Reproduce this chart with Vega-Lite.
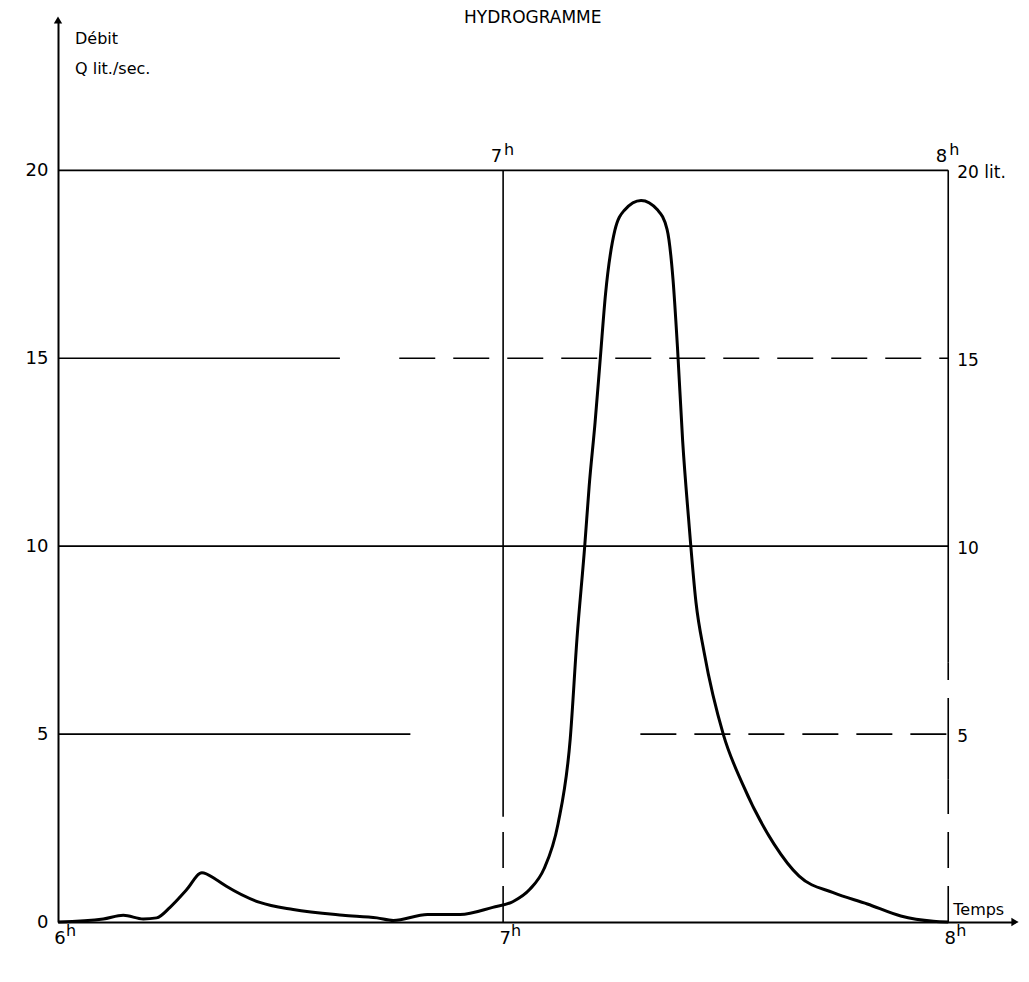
{
  "$schema": "https://vega.github.io/schema/vega-lite/v6.json",
  "width": 957,
  "height": 902,
  "autosize": "none",
  "padding": {"left": 58, "top": 20, "right": 14, "bottom": 60},
  "background": "white",
  "config": {
    "view": {"stroke": null},
    "font": "DejaVu Sans",
    "axis": {"grid": false, "ticks": false, "domainColor": "black", "domainWidth": 2, "labelColor": "black", "labelFont": "DejaVu Sans", "labelFontSize": 18, "title": null}
  },
  "datasets": {
    "flow": [
      {"t": 0, "q": 0}, {"t": 6.1, "q": 0.08}, {"t": 8.8, "q": 0.18}, {"t": 11.5, "q": 0.08}, {"t": 13.3, "q": 0.11},
      {"t": 15.1, "q": 0.39}, {"t": 17.3, "q": 0.85}, {"t": 19.4, "q": 1.31}, {"t": 21.3, "q": 1.13}, {"t": 22.7, "q": 0.95},
      {"t": 27.2, "q": 0.52}, {"t": 31.7, "q": 0.33}, {"t": 38.4, "q": 0.18}, {"t": 43.0, "q": 0.11}, {"t": 45.2, "q": 0.04},
      {"t": 49.8, "q": 0.2}, {"t": 54.2, "q": 0.2}, {"t": 58.6, "q": 0.39}, {"t": 61.3, "q": 0.54}, {"t": 63.6, "q": 0.87},
      {"t": 65.5, "q": 1.41}, {"t": 67.4, "q": 2.61}, {"t": 69.05, "q": 4.88}, {"t": 69.96, "q": 7.55}, {"t": 71.0, "q": 10.0},
      {"t": 71.6, "q": 11.6}, {"t": 72.4, "q": 13.3}, {"t": 73.1, "q": 15.0}, {"t": 73.8, "q": 16.7}, {"t": 75.06, "q": 18.4},
      {"t": 76.35, "q": 18.94}, {"t": 78.6, "q": 19.2}, {"t": 80.8, "q": 18.95}, {"t": 82.1, "q": 18.43}, {"t": 82.9, "q": 17.1},
      {"t": 83.5, "q": 15.3}, {"t": 84.2, "q": 12.8}, {"t": 85.0, "q": 10.73}, {"t": 86.0, "q": 8.5}, {"t": 87.1, "q": 7.17},
      {"t": 89.7, "q": 4.98}, {"t": 92.3, "q": 3.66}, {"t": 96.5, "q": 2.08}, {"t": 99.9, "q": 1.22}, {"t": 104.5, "q": 0.78},
      {"t": 109.1, "q": 0.48}, {"t": 113.6, "q": 0.16}, {"t": 118, "q": 0.02}, {"t": 120, "q": 0}
    ],
    "hgrid": [
      {"q": 20, "t": 0, "t2": 120, "style": "solid"},
      {"q": 15, "t": 0, "t2": 38, "style": "solid"},
      {"q": 15, "t": 46, "t2": 120, "style": "dashed"},
      {"q": 10, "t": 0, "t2": 120, "style": "solid"},
      {"q": 5, "t": 0, "t2": 47.5, "style": "solid"},
      {"q": 5, "t": 78.5, "t2": 120, "style": "dashed"}
    ],
    "vgrid": [
      {"t": 60, "q": 2.8, "q2": 20, "style": "solid"},
      {"t": 60, "q": 0, "q2": 2.8, "style": "dashed"},
      {"t": 120, "q": 6.9, "q2": 20, "style": "solid"},
      {"t": 120, "q": 5, "q2": 6.9, "style": "dashed"},
      {"t": 120, "q": 3.8, "q2": 5, "style": "solid"},
      {"t": 120, "q": 0, "q2": 3.8, "style": "dashed"}
    ],
    "rightLabels": [
      {"t": 120, "q": 20, "label": "20 lit."},
      {"t": 120, "q": 15, "label": "15"},
      {"t": 120, "q": 10, "label": "10"},
      {"t": 120, "q": 5, "label": "5"}
    ],
    "hours": [
      {"t": 60, "q": 20, "pos": "top", "label": "7"},
      {"t": 120, "q": 20, "pos": "top", "label": "8"},
      {"t": 0, "q": 0, "pos": "bottom", "label": "6"},
      {"t": 60, "q": 0, "pos": "bottom", "label": "7"},
      {"t": 120, "q": 0, "pos": "bottom", "label": "8"}
    ],
    "yTitle": [
      {"t": 0, "q": 23.5, "label": "Débit"},
      {"t": 0, "q": 22.7, "label": "Q lit./sec."}
    ],
    "title": [{"t": 64, "q": 24, "label": "HYDROGRAMME"}],
    "temps": [{"t": 120, "q": 0, "label": "Temps"}],
    "arrowUp": [{"t": 0, "q": 24}],
    "arrowRight": [{"t": 129, "q": 0}]
  },
  "layer": [
    {
      "data": {"name": "hgrid"},
      "mark": {"type": "rule", "color": "black", "strokeWidth": 1.6},
      "encoding": {
        "x": {"field": "t", "type": "quantitative", "scale": {"domain": [0, 129], "nice": false, "zero": false},
              "axis": {"values": [0, 60, 120], "labels": false, "title": null}},
        "x2": {"field": "t2"},
        "y": {"field": "q", "type": "quantitative", "scale": {"domain": [0, 24], "nice": false},
              "axis": {"values": [0, 5, 10, 15, 20], "labelPadding": 10, "title": null}},
        "strokeDash": {"field": "style", "type": "nominal", "scale": {"domain": ["solid", "dashed"], "range": [[1, 0], [36, 18]]}, "legend": null}
      }
    },
    {
      "data": {"name": "vgrid"},
      "mark": {"type": "rule", "color": "black", "strokeWidth": 1.6},
      "encoding": {
        "x": {"field": "t", "type": "quantitative", "scale": {"domain": [0, 129], "nice": false, "zero": false}},
        "y": {"field": "q", "type": "quantitative", "scale": {"domain": [0, 24], "nice": false}},
        "y2": {"field": "q2"},
        "strokeDash": {"field": "style", "type": "nominal", "scale": {"domain": ["solid", "dashed"], "range": [[1, 0], [6, 6]]}, "legend": null}
      }
    },
    {
      "data": {"name": "flow"},
      "mark": {"type": "line", "color": "black", "strokeWidth": 3, "interpolate": "monotone"},
      "encoding": {
        "x": {"field": "t", "type": "quantitative", "scale": {"domain": [0, 129], "nice": false, "zero": false}},
        "y": {"field": "q", "type": "quantitative", "scale": {"domain": [0, 24], "nice": false}}
      }
    },
    {
      "data": {"name": "rightLabels"},
      "mark": {"type": "text", "align": "left", "baseline": "middle", "dx": 9, "dy": 3, "fontSize": 17, "color": "black"},
      "encoding": {
        "x": {"field": "t", "type": "quantitative"},
        "y": {"field": "q", "type": "quantitative"},
        "text": {"field": "label"}
      }
    },
    {
      "data": {"name": "hours"},
      "transform": [{"filter": "datum.pos == 'top'"}],
      "mark": {"type": "text", "align": "right", "baseline": "bottom", "dx": -1, "dy": -4, "fontSize": 18, "color": "black"},
      "encoding": {
        "x": {"field": "t", "type": "quantitative"},
        "y": {"field": "q", "type": "quantitative"},
        "text": {"field": "label"}
      }
    },
    {
      "data": {"name": "hours"},
      "transform": [{"filter": "datum.pos == 'top'"}],
      "mark": {"type": "text", "align": "left", "baseline": "bottom", "dx": 1, "dy": -12, "fontSize": 16, "color": "black", "text": "h"},
      "encoding": {
        "x": {"field": "t", "type": "quantitative"},
        "y": {"field": "q", "type": "quantitative"}
      }
    },
    {
      "data": {"name": "hours"},
      "transform": [{"filter": "datum.pos == 'bottom'"}],
      "mark": {"type": "text", "align": "center", "baseline": "top", "dx": 2, "dy": 8, "fontSize": 18, "color": "black"},
      "encoding": {
        "x": {"field": "t", "type": "quantitative"},
        "y": {"field": "q", "type": "quantitative"},
        "text": {"field": "label"}
      }
    },
    {
      "data": {"name": "hours"},
      "transform": [{"filter": "datum.pos == 'bottom'"}],
      "mark": {"type": "text", "align": "left", "baseline": "top", "dx": 8, "dy": 1, "fontSize": 16, "color": "black", "text": "h"},
      "encoding": {
        "x": {"field": "t", "type": "quantitative"},
        "y": {"field": "q", "type": "quantitative"}
      }
    },
    {
      "data": {"name": "yTitle"},
      "mark": {"type": "text", "align": "left", "baseline": "middle", "dx": 17, "fontSize": 16, "color": "black"},
      "encoding": {
        "x": {"field": "t", "type": "quantitative"},
        "y": {"field": "q", "type": "quantitative"},
        "text": {"field": "label"}
      }
    },
    {
      "data": {"name": "title"},
      "mark": {"type": "text", "align": "center", "baseline": "middle", "dy": -2, "fontSize": 17, "color": "black"},
      "encoding": {
        "x": {"field": "t", "type": "quantitative"},
        "y": {"field": "q", "type": "quantitative"},
        "text": {"field": "label"}
      }
    },
    {
      "data": {"name": "temps"},
      "mark": {"type": "text", "align": "left", "baseline": "bottom", "dx": 5, "dy": -4, "fontSize": 16, "color": "black"},
      "encoding": {
        "x": {"field": "t", "type": "quantitative"},
        "y": {"field": "q", "type": "quantitative"},
        "text": {"field": "label"}
      }
    },
    {
      "data": {"name": "arrowUp"},
      "mark": {"type": "point", "shape": "triangle-up", "filled": true, "color": "black", "size": 70, "opacity": 1},
      "encoding": {
        "x": {"field": "t", "type": "quantitative"},
        "y": {"field": "q", "type": "quantitative"}
      }
    },
    {
      "data": {"name": "arrowRight"},
      "mark": {"type": "point", "shape": "triangle-right", "filled": true, "color": "black", "size": 70, "opacity": 1},
      "encoding": {
        "x": {"field": "t", "type": "quantitative"},
        "y": {"field": "q", "type": "quantitative"}
      }
    }
  ]
}
